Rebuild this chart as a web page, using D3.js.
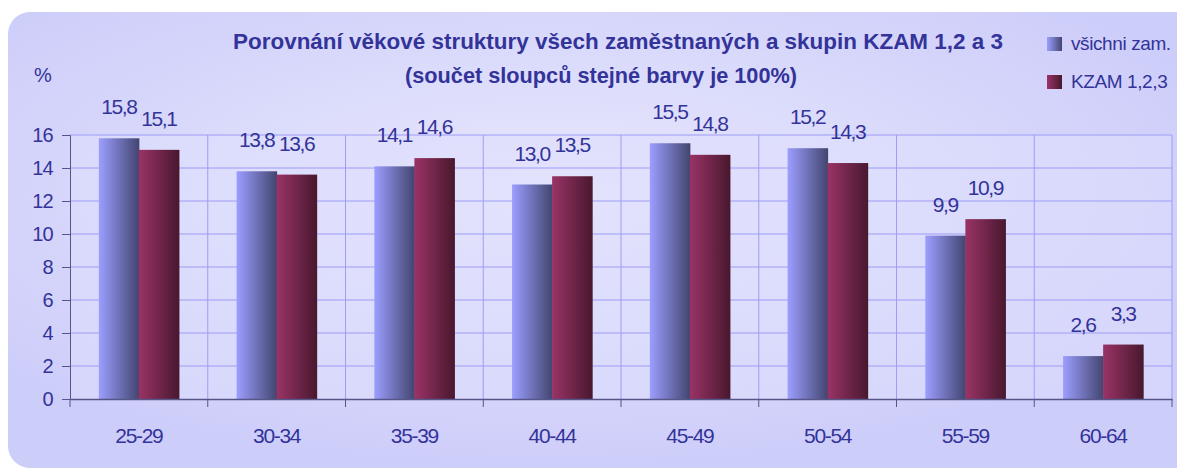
<!DOCTYPE html>
<html><head><meta charset="utf-8">
<script src="https://cdnjs.cloudflare.com/ajax/libs/d3/7.8.5/d3.min.js"></script>
<style>html,body{margin:0;padding:0;background:#fff;}svg{display:block;font-family:"Liberation Sans",Arial,sans-serif;}</style>
</head><body><svg id="c" width="1177" height="470"></svg>
<script>
const categories = ["25-29","30-34","35-39","40-44","45-49","50-54","55-59","60-64"];
const seriesNames = ["všichni zam.","KZAM 1,2,3"];
const allEmployed = [15.8,13.8,14.1,13.0,15.5,15.2,9.9,2.6];
const kzam = [15.1,13.6,14.6,13.5,14.8,14.3,10.9,3.3];
const yTicks = [0,2,4,6,8,10,12,14,16];
const titleLines = ["Porovnání věkové struktury všech zaměstnaných a skupin KZAM 1,2 a 3","(součet sloupců stejné barvy je 100%)"];

const svg = d3.select("#c");
const defs = svg.append("defs");
const bg = defs.append("radialGradient").attr("id","bg").attr("cx","0.45").attr("cy","0.4").attr("r","0.6");
bg.append("stop").attr("offset","0").attr("stop-color","#e8e8fd");
bg.append("stop").attr("offset","1").attr("stop-color","#cdcdfa");
const g1 = defs.append("linearGradient").attr("id","gb");
g1.append("stop").attr("offset","0").attr("stop-color","#9c9eff");
g1.append("stop").attr("offset","1").attr("stop-color","#42456f");
const g2 = defs.append("linearGradient").attr("id","gr");
g2.append("stop").attr("offset","0").attr("stop-color","#9a3366");
g2.append("stop").attr("offset","1").attr("stop-color","#48182e");

svg.append("rect").attr("x",8).attr("y",12).attr("width",1200).attr("height",456).attr("rx",22).attr("fill","url(#bg)");

const x0 = d3.scaleBand().domain(categories).range([70,1172]).paddingInner(0).paddingOuter(0);
const x1 = d3.scaleBand().domain([0,1]).range([0,x0.bandwidth()]).paddingOuter(0.72).paddingInner(0);
const y = d3.scaleLinear().domain([0,16]).range([399,135]);

const plot = svg.append("g");
plot.append("rect").attr("x",70).attr("y",135).attr("width",1102).attr("height",264).attr("fill","#dfdffd").attr("opacity",0.55);
plot.selectAll("line.h").data(yTicks.slice(1)).join("line").attr("x1",70).attr("x2",1172)
  .attr("y1",d=>y(d)).attr("y2",d=>y(d)).attr("stroke","#9d9cf6").attr("stroke-width",1);
plot.selectAll("line.v").data(categories.slice(1).concat(["end"])).join("line")
  .attr("x1",(d,i)=>70+(i+1)*x0.step()).attr("x2",(d,i)=>70+(i+1)*x0.step())
  .attr("y1",135).attr("y2",399).attr("stroke","#9d9cf6").attr("stroke-width",1);

const data = categories.map((c,i)=>({c,v:[allEmployed[i],kzam[i]]}));
const grp = svg.selectAll("g.grp").data(data).join("g").attr("transform",d=>`translate(${x0(d.c)},0)`);
grp.selectAll("rect").data(d=>d.v).join("rect")
  .attr("x",(d,i)=>x1(i)).attr("width",x1.bandwidth()+0.5)
  .attr("y",d=>y(d)).attr("height",d=>399-y(d))
  .attr("fill",(d,i)=>i===0?"url(#gb)":"url(#gr)");
grp.selectAll("text").data(d=>d.v).join("text")
  .attr("x",(d,i)=>x1(i)+x1.bandwidth()/2).attr("y",d=>y(d)-24)
  .attr("text-anchor","middle").attr("font-size",21).attr("fill","#333399").attr("letter-spacing","-1.4")
  .text(d=>d3.format(".1f")(d).replace(".",","));

// axes
const ya = svg.append("g").attr("transform","translate(70,0)")
  .call(d3.axisLeft(y).tickValues(yTicks).tickSize(8).tickPadding(9));
ya.select(".domain").attr("stroke","#555588");
ya.selectAll(".tick line").attr("stroke","#555588");
ya.selectAll("text").attr("font-size",20).attr("fill","#333399").attr("letter-spacing","-0.7").attr("font-family","Liberation Sans, Arial, sans-serif");
const xa = svg.append("g").attr("transform","translate(0,399)")
  .call(d3.axisBottom(x0).tickSize(0).tickPadding(29));
xa.select(".domain").attr("stroke","#555588").attr("stroke-width",1.5);
xa.selectAll("text").attr("font-size",21).attr("fill","#333399").attr("letter-spacing","-1.3").attr("font-family","Liberation Sans, Arial, sans-serif");
svg.append("g").selectAll("line").data(d3.range(9)).join("line")
  .attr("x1",d=>70+d*x0.step()).attr("x2",d=>70+d*x0.step()).attr("y1",399).attr("y2",407).attr("stroke","#555588");

svg.append("text").attr("x",43).attr("y",82).attr("text-anchor","middle").attr("font-size",20).attr("fill","#333399").text("%");

const titleX = [233,405], titleW = [770,392], titleY = [49,83];
svg.selectAll("text.title").data(titleLines).join("text").attr("class","title")
  .attr("x",(d,i)=>titleX[i]).attr("y",(d,i)=>titleY[i])
  .attr("textLength",(d,i)=>titleW[i]).attr("lengthAdjust","spacingAndGlyphs")
  .attr("font-size",22).attr("font-weight","bold").attr("fill","#333399").text(d=>d);

const leg = svg.append("g");
seriesNames.forEach((n,i)=>{
  leg.append("rect").attr("x",1047).attr("y",37+i*38).attr("width",15).attr("height",14).attr("fill",i===0?"url(#gb)":"url(#gr)");
  leg.append("text").attr("x",1071).attr("y",50+i*38).attr("font-size",19).attr("fill","#333399").attr("letter-spacing","-0.4").text(n);
});
</script></body></html>
